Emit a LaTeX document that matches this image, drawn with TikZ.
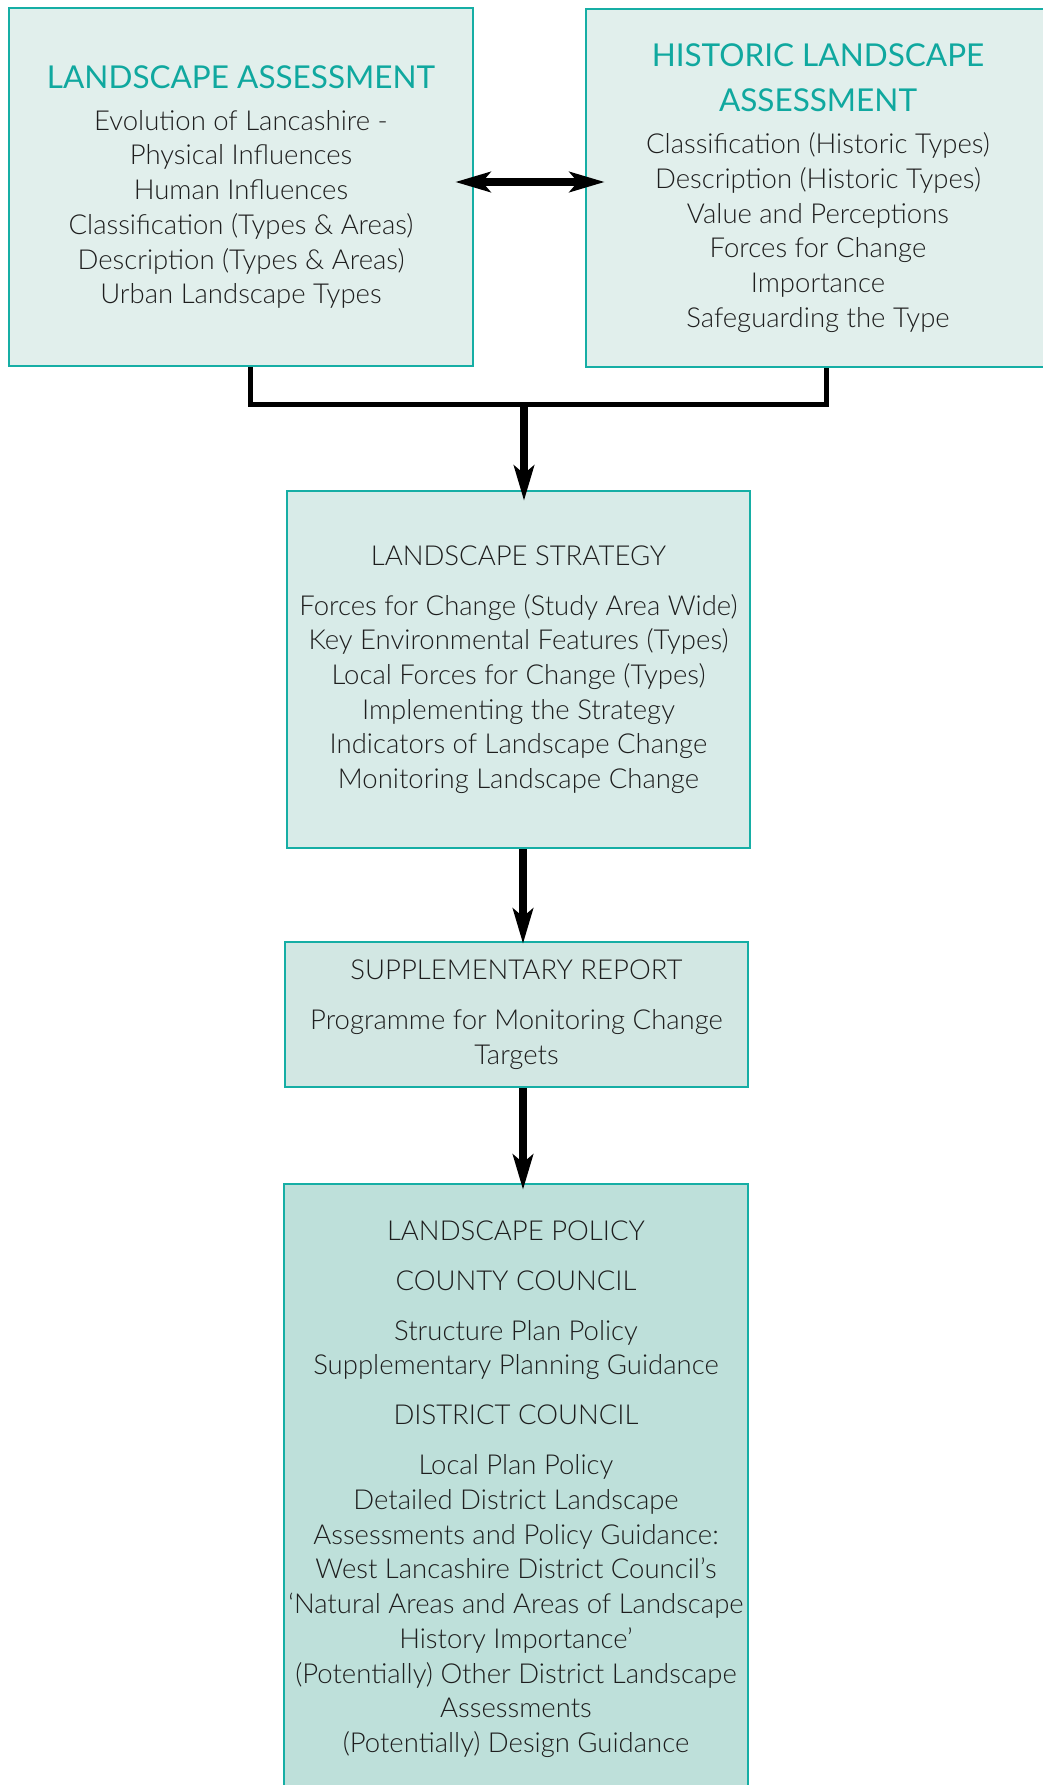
\documentclass[tikz,border=0pt]{standalone}
\usepackage{fontspec}
\setmainfont{Lato Light}
\newfontfamily\ttlfont{Lato}
\usetikzlibrary{arrows.meta,calc}
\definecolor{tealB}{RGB}{22,174,165}
\definecolor{tealT}{RGB}{16,168,159}
\definecolor{fillA}{RGB}{225,239,236}
\definecolor{fillB}{RGB}{216,235,232}
\definecolor{fillC}{RGB}{210,231,227}
\definecolor{fillD}{RGB}{190,224,218}
\definecolor{txtc}{RGB}{30,30,30}
\newcommand\bfnt{\fontsize{27.5}{34.7}\selectfont}
\newcommand\tfnt{\ttlfont\fontsize{31.5}{34.7}\selectfont\color{tealT}}
\tikzset{
  box/.style={draw=tealB, line width=2.5pt, rectangle, align=center, text=txtc, inner sep=0pt, font=\bfnt},
  arr/.style={line width=8pt, -{Stealth[length=35pt,width=20pt,inset=8pt]}},
  dblarr/.style={line width=8pt, {Stealth[length=35pt,width=20pt,inset=8pt]}-{Stealth[length=35pt,width=20pt,inset=8pt]}},
  conn/.style={line width=5pt, line join=miter}
}
\begin{document}
\begin{tikzpicture}[x=1pt,y=-1pt]
\useasboundingbox (0,0) rectangle (1042,1785);
\fill[white] (0,0) rectangle (1042,1785);

\node[box, fill=fillA, minimum width=464pt, minimum height=358pt] (la) at (241,187)
 {{\tfnt LANDSCAPE ASSESSMENT}\\[7.3pt]
  Evolution of Lancashire -\\ Physical Influences\\ Human Influences\\
  Classification (Types \& Areas)\\ Description (Types \& Areas)\\ Urban Landscape Types};

\node[box, fill=fillA, minimum width=464pt, minimum height=358pt] (hla) at (818,188)
 {{\tfnt HISTORIC LANDSCAPE}\\[10.3pt]{\tfnt ASSESSMENT}\\[7.3pt]
  Classification (Historic Types)\\ Description (Historic Types)\\ Value and Perceptions\\
  Forces for Change\\ Importance\\ Safeguarding the Type};

\node[box, fill=fillB, minimum width=463pt, minimum height=357pt] (ls) at (518.5,669.5)
 {LANDSCAPE STRATEGY\\[15.3pt]
  Forces for Change (Study Area Wide)\\ Key Environmental Features (Types)\\
  Local Forces for Change (Types)\\ Implementing the Strategy\\
  Indicators of Landscape Change\\ Monitoring Landscape Change};

\node[box, fill=fillC, minimum width=463pt, minimum height=145pt] (sr) at (516.5,1014.5)
 {SUPPLEMENTARY REPORT\\[15.3pt]
  Programme for Monitoring Change\\ Targets};

\node[box, fill=fillD, minimum width=464pt, minimum height=610pt] (lp) at (516,1489)
 {LANDSCAPE POLICY\\[15.3pt]
  COUNTY COUNCIL\\[15.3pt]
  Structure Plan Policy\\ Supplementary Planning Guidance\\[15.3pt]
  DISTRICT COUNCIL\\[15.3pt]
  Local Plan Policy\\ Detailed District Landscape\\ Assessments and Policy Guidance:\\
  West Lancashire District Council's\\ `Natural Areas and Areas of Landscape\\
  History Importance'\\ (Potentially) Other District Landscape\\ Assessments\\
  (Potentially) Design Guidance};

% connectors
\coordinate (j) at (524,404);
\draw[conn] ([xshift=9pt]la.south) |- (j) -| ([xshift=8pt]hla.south);
\draw[arr] ([yshift=2pt]j) -- ([yshift=-11pt]j |- ls.north);
\draw[arr] ([xshift=4.5pt]ls.south) -- ([xshift=6.5pt,yshift=-3pt]sr.north);
\draw[arr] ([xshift=6.5pt]sr.south) -- ([xshift=7pt,yshift=-7pt]lp.north);
\draw[dblarr] ([xshift=-19pt,yshift=5pt]la.east) -- ([xshift=20pt,yshift=6pt]hla.west);
\end{tikzpicture}
\end{document}
